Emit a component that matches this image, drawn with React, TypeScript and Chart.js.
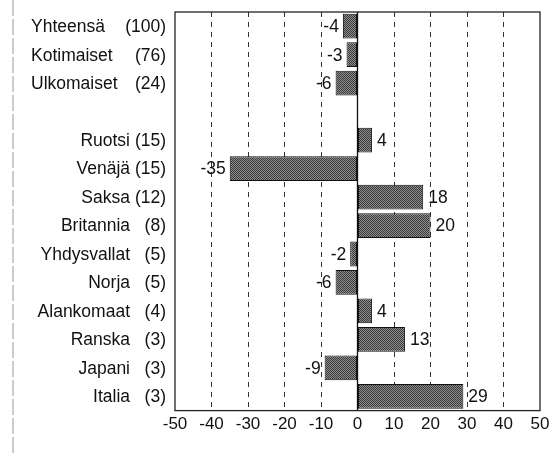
import React, { useEffect, useRef } from "react";
import { Chart, registerables } from "chart.js";

Chart.register(...registerables);

const names = ["Yhteensä", "Kotimaiset", "Ulkomaiset", "", "Ruotsi", "Venäjä", "Saksa", "Britannia", "Yhdysvallat", "Norja", "Alankomaat", "Ranska", "Japani", "Italia"];
const counts: (number | null)[] = [100, 76, 24, null, 15, 15, 12, 8, 5, 5, 4, 3, 3, 3];
const values: (number | null)[] = [-4, -3, -6, null, 4, -35, 18, 20, -2, -6, 4, 13, -9, 29];
const groupRows = 3;
const xMin = -50;
const xMax = 50;
const xStep = 10;

const FONT = "'Liberation Sans', Arial, Helvetica, sans-serif";

export default function App() {
  const ref = useRef<HTMLCanvasElement | null>(null);
  useEffect(() => {
    const canvas = ref.current;
    if (!canvas) return;
    const pc = document.createElement("canvas");
    pc.width = 2;
    pc.height = 2;
    const pctx = pc.getContext("2d")!;
    pctx.fillStyle = "#8e8e8e";
    pctx.fillRect(0, 0, 2, 2);
    pctx.fillStyle = "#3a3a3a";
    pctx.fillRect(0, 0, 1, 1);
    pctx.fillRect(1, 1, 1, 1);
    const pattern = pctx.createPattern(pc, "repeat") || "#6a6a6a";

    const labelsPlugin = {
      id: "customLabels",
      beforeDatasetsDraw(chart: any) {
        const { ctx, chartArea, scales } = chart;
        const x0 = scales.x.getPixelForValue(0);
        ctx.save();
        ctx.setLineDash([]);
        ctx.strokeStyle = "#111";
        ctx.lineWidth = 1.3;
        ctx.beginPath();
        ctx.moveTo(x0, chartArea.top);
        ctx.lineTo(x0, chartArea.bottom);
        ctx.stroke();
        ctx.restore();
      },
      afterDatasetsDraw(chart: any) {
        const { ctx, chartArea, scales } = chart;
        ctx.save();
        ctx.setLineDash([]);
        ctx.strokeStyle = "#222";
        ctx.lineWidth = 1.3;
        ctx.strokeRect(chartArea.left, chartArea.top, chartArea.right - chartArea.left, chartArea.bottom - chartArea.top);

        // left page edge line
        ctx.strokeStyle = "#999";
        ctx.lineWidth = 1;
        ctx.setLineDash([16, 3]);
        ctx.beginPath();
        ctx.moveTo(13, 0);
        ctx.lineTo(13, chart.height);
        ctx.stroke();
        ctx.setLineDash([]);

        ctx.fillStyle = "#111";
        ctx.font = `17.5px ${FONT}`;
        ctx.textBaseline = "middle";
        names.forEach((n, i) => {
          if (!n) return;
          const y = scales.y.getPixelForValue(i) + 1;
          if (i < groupRows) {
            ctx.textAlign = "left";
            ctx.fillText(n, 31, y);
          } else {
            ctx.textAlign = "right";
            ctx.fillText(n, 130, y);
          }
          const c = counts[i];
          if (c !== null) {
            ctx.textAlign = "right";
            ctx.fillText(`(${c})`, 166, y);
          }
        });

        const meta = chart.getDatasetMeta(0);
        meta.data.forEach((bar: any, i: number) => {
          const v = values[i];
          if (v === null || v === undefined) return;
          const y = bar.y + 1;
          if (v < 0) {
            ctx.textAlign = "right";
            ctx.fillText(String(v), bar.x - 4, y);
          } else {
            ctx.textAlign = "left";
            ctx.fillText(String(v), bar.x + 5, y);
          }
        });
        ctx.restore();
      },
    };

    const chart = new Chart(canvas, {
      type: "bar",
      data: {
        labels: names.map((n, i) => n || `gap${i}`),
        datasets: [
          {
            data: values as any,
            backgroundColor: pattern as any,
            borderColor: "#111",
            borderWidth: 1,
            borderSkipped: false,
            barPercentage: 0.87,
            categoryPercentage: 1,
          },
        ],
      },
      options: {
        indexAxis: "y",
        animation: false,
        responsive: true,
        maintainAspectRatio: false,
        layout: { padding: { left: 175, top: 12, right: 9, bottom: 14 } },
        plugins: { legend: { display: false }, tooltip: { enabled: false } },
        scales: {
          x: {
            type: "linear",
            min: xMin,
            max: xMax,
            afterFit: (scale: any) => {
              scale.paddingRight = 0;
              scale.paddingLeft = 0;
            },
            ticks: {
              stepSize: xStep,
              color: "#111",
              font: { family: FONT, size: 17 },
              padding: 4,
              maxRotation: 0,
              autoSkip: false,
            },
            grid: {
              drawTicks: false,
              color: (c: any) => {
                const v = c.tick ? c.tick.value : 0;
                return v === xMin || v === xMax || v === 0 ? "rgba(0,0,0,0)" : "#333";
              },
              lineWidth: 1,
            },
            border: { display: false, dash: [5, 5] },
          },
          y: {
            display: false,
            grid: { display: false },
          },
        },
      },
      plugins: [labelsPlugin],
    });
    return () => chart.destroy();
  }, []);

  return (
    <div style={{ position: "absolute", left: 0, top: 0, width: 549, height: 453, background: "#fff" }}>
      <canvas ref={ref} />
    </div>
  );
}
